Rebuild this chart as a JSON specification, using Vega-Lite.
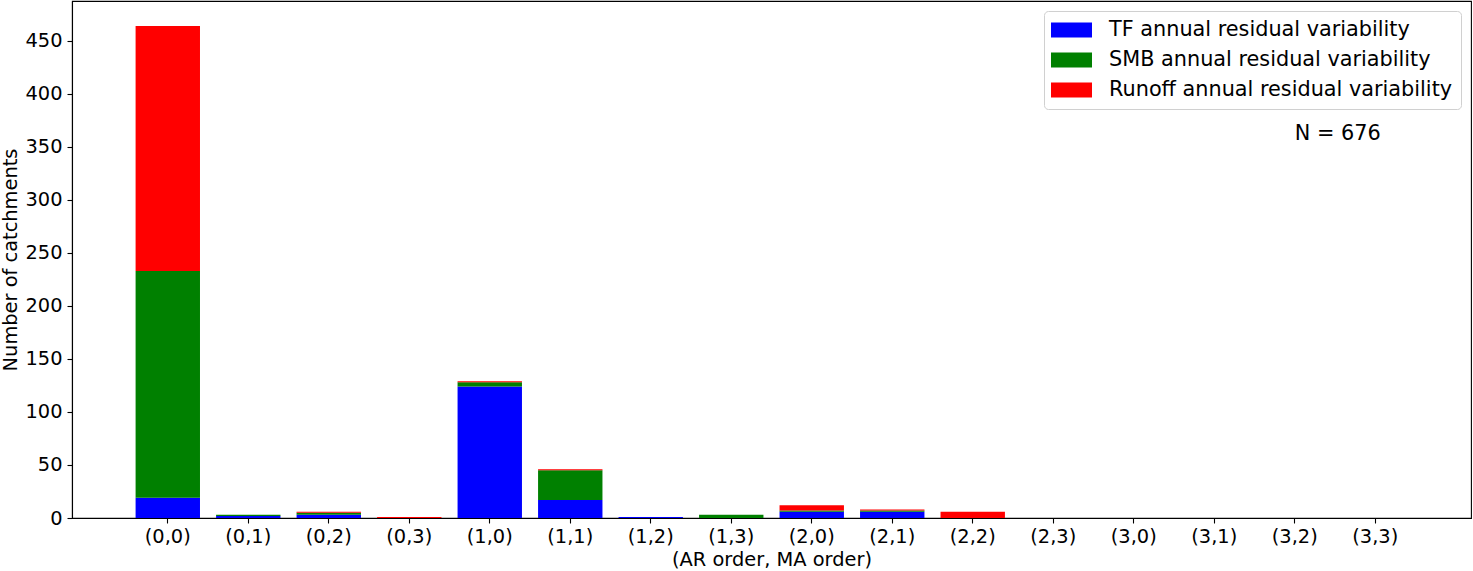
{
  "$schema": "https://vega.github.io/schema/vega-lite/v6.json",
  "width": 1399,
  "height": 517,
  "autosize": {"type": "none"},
  "padding": {"left": 72, "top": 1, "right": 2, "bottom": 53},
  "background": "white",
  "config": {
    "font": "DejaVu Sans",
    "view": {"stroke": "black", "strokeWidth": 1.1},
    "axis": {"grid": false, "domainColor": "black", "tickColor": "black", "domainWidth": 1.1, "tickWidth": 1.1, "tickSize": 5, "labelColor": "black", "titleColor": "black", "labelFontSize": 19.4, "titleFontSize": 19.4, "titleFontWeight": "normal", "labelPadding": 4}
  },
  "layer": [
    {
      "data": {"values": [
        {"order": "(0,0)", "component": "TF annual residual variability", "count": 19},
        {"order": "(0,0)", "component": "SMB annual residual variability", "count": 214},
        {"order": "(0,0)", "component": "Runoff annual residual variability", "count": 231},
        {"order": "(0,1)", "component": "TF annual residual variability", "count": 2},
        {"order": "(0,1)", "component": "SMB annual residual variability", "count": 1},
        {"order": "(0,1)", "component": "Runoff annual residual variability", "count": 0},
        {"order": "(0,2)", "component": "TF annual residual variability", "count": 3},
        {"order": "(0,2)", "component": "SMB annual residual variability", "count": 2},
        {"order": "(0,2)", "component": "Runoff annual residual variability", "count": 1},
        {"order": "(0,3)", "component": "TF annual residual variability", "count": 0},
        {"order": "(0,3)", "component": "SMB annual residual variability", "count": 0},
        {"order": "(0,3)", "component": "Runoff annual residual variability", "count": 1},
        {"order": "(1,0)", "component": "TF annual residual variability", "count": 124},
        {"order": "(1,0)", "component": "SMB annual residual variability", "count": 4},
        {"order": "(1,0)", "component": "Runoff annual residual variability", "count": 1},
        {"order": "(1,1)", "component": "TF annual residual variability", "count": 17},
        {"order": "(1,1)", "component": "SMB annual residual variability", "count": 28},
        {"order": "(1,1)", "component": "Runoff annual residual variability", "count": 1},
        {"order": "(1,2)", "component": "TF annual residual variability", "count": 1},
        {"order": "(1,2)", "component": "SMB annual residual variability", "count": 0},
        {"order": "(1,2)", "component": "Runoff annual residual variability", "count": 0},
        {"order": "(1,3)", "component": "TF annual residual variability", "count": 0},
        {"order": "(1,3)", "component": "SMB annual residual variability", "count": 3},
        {"order": "(1,3)", "component": "Runoff annual residual variability", "count": 0},
        {"order": "(2,0)", "component": "TF annual residual variability", "count": 6},
        {"order": "(2,0)", "component": "SMB annual residual variability", "count": 1},
        {"order": "(2,0)", "component": "Runoff annual residual variability", "count": 5},
        {"order": "(2,1)", "component": "TF annual residual variability", "count": 6},
        {"order": "(2,1)", "component": "SMB annual residual variability", "count": 1},
        {"order": "(2,1)", "component": "Runoff annual residual variability", "count": 1},
        {"order": "(2,2)", "component": "TF annual residual variability", "count": 0},
        {"order": "(2,2)", "component": "SMB annual residual variability", "count": 0},
        {"order": "(2,2)", "component": "Runoff annual residual variability", "count": 6}
      ]},
      "mark": {"type": "bar", "stroke": null},
      "encoding": {
        "x": {
          "field": "order", "type": "ordinal", "title": "(AR order, MA order)",
          "scale": {"domain": ["(0,0)","(0,1)","(0,2)","(0,3)","(1,0)","(1,1)","(1,2)","(1,3)","(2,0)","(2,1)","(2,2)","(2,3)","(3,0)","(3,1)","(3,2)","(3,3)"], "paddingInner": 0.2, "paddingOuter": 0.79},
          "axis": {"labelAngle": 0, "titlePadding": 5}
        },
        "y": {
          "field": "count", "type": "quantitative", "stack": "zero", "title": "Number of catchments",
          "scale": {"domain": [0, 487.5], "nice": false},
          "axis": {"values": [0,50,100,150,200,250,300,350,400,450], "titlePadding": 4, "labelPadding": 5}
        },
        "color": {
          "field": "component", "type": "nominal",
          "sort": ["TF annual residual variability", "SMB annual residual variability", "Runoff annual residual variability"],
          "scale": {"domain": ["TF annual residual variability", "SMB annual residual variability", "Runoff annual residual variability"], "range": ["#0000ff", "#008000", "#ff0000"]},
          "legend": {
            "title": null, "orient": "top-right", "offset": 10,
            "symbolType": "M-2,-0.732L2,-0.732L2,0.732L-2,0.732Z", "symbolSize": 420.25, "symbolStrokeWidth": 0, "symbolOpacity": 1,
            "symbolOffset": 8.5,
            "labelFontSize": 20.8, "labelColor": "black", "labelLimit": 600, "labelOffset": 27,
            "rowPadding": 8, "padding": 8.5,
            "strokeColor": "#d0d0d0", "fillColor": "white", "cornerRadius": 4
          }
        },
        "order": {"field": "component", "sort": "descending"}
      }
    },
    {
      "data": {"values": [{"label": "N = 676"}]},
      "mark": {"type": "text", "align": "left", "baseline": "alphabetic", "fontSize": 20.8, "color": "black"},
      "encoding": {
        "x": {"datum": "(3,2)", "type": "ordinal"},
        "y": {"datum": 356, "type": "quantitative"},
        "text": {"field": "label"}
      }
    }
  ]
}
